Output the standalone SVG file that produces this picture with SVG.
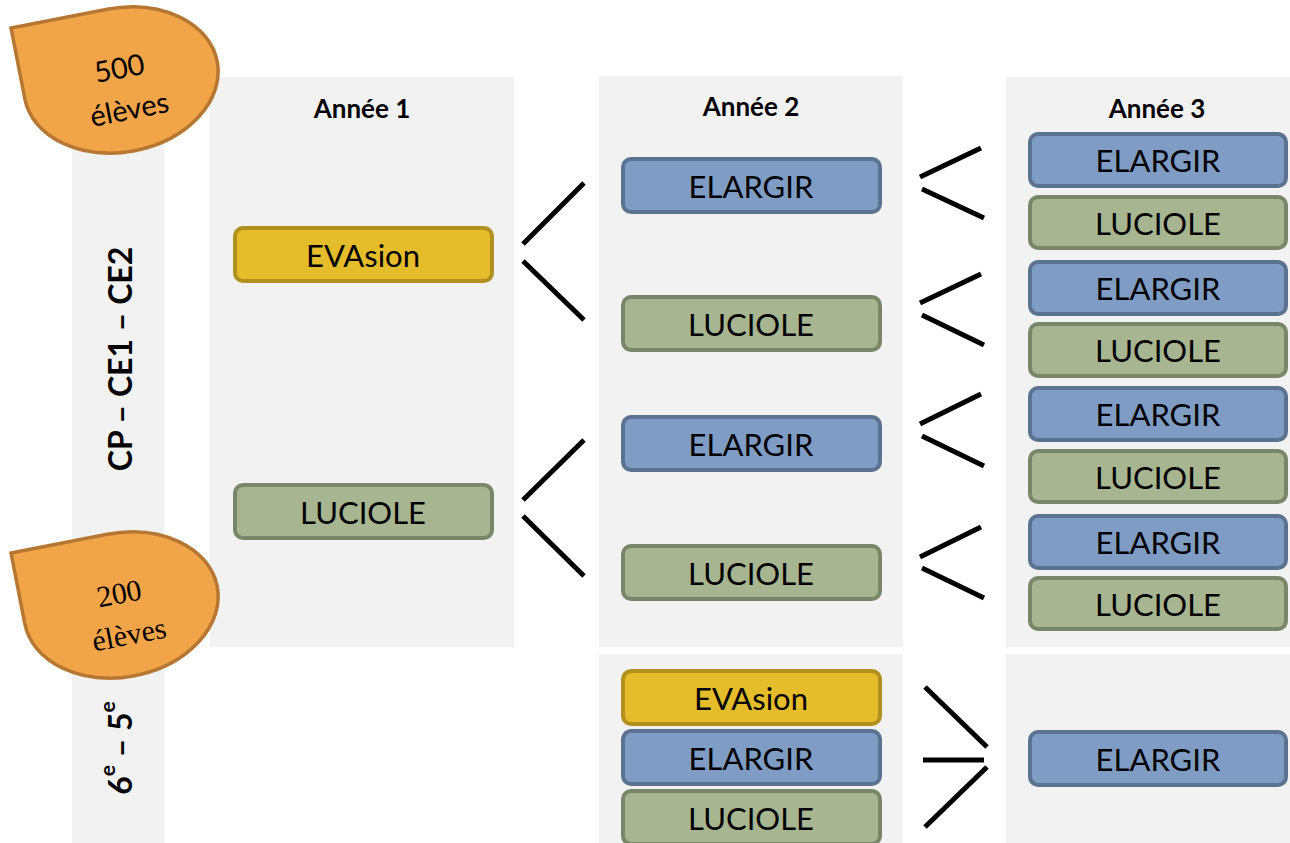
<svg xmlns="http://www.w3.org/2000/svg" width="1290" height="843" viewBox="0 0 1290 843">
<defs>
<style>
.panel{fill:#F2F2F2}
.box{stroke-width:4}
.blue{fill:#7F9DC4;stroke:#5B7391}
.green{fill:#A7B690;stroke:#7A8669}
.yellow{fill:#E5BC2A;stroke:#B0901F}
.lbl{font-family:Lato,"Liberation Sans",sans-serif;font-size:31px;fill:#000;text-anchor:middle;dominant-baseline:central}
.hdr{font-family:Lato,"Liberation Sans",sans-serif;font-size:26px;font-weight:bold;fill:#000;text-anchor:middle}
.side{font-family:Lato,"Liberation Sans",sans-serif;font-size:32px;font-weight:bold;fill:#000;text-anchor:middle;dominant-baseline:central}
.blob{fill:#F2A449;stroke:#B67733;stroke-width:3.5}
.bt1{font-family:Lato,"Liberation Sans",sans-serif;font-size:29px;fill:#000;text-anchor:middle;dominant-baseline:central}
.bt2{font-family:"Liberation Serif",serif;font-size:30px;fill:#000;text-anchor:middle;dominant-baseline:central}
.con line{stroke:#000;stroke-width:5}
</style>
<path id="drop" d="M -98,-72 L 0,-72 A 98 72 0 1 1 -98,0 Z"/>
</defs>

<g id="panels">
<rect class="panel" x="72" y="77" width="92" height="766"/>
<rect class="panel" x="210" y="77" width="304" height="570"/>
<rect class="panel" x="599" y="76" width="304" height="571"/>
<rect class="panel" x="1006" y="77" width="284" height="570"/>
<rect class="panel" x="599" y="654" width="304" height="189"/>
<rect class="panel" x="1006" y="654" width="284" height="189"/>
</g>

<g id="headers">
<text class="hdr" x="362" y="118">Année 1</text>
<text class="hdr" x="751" y="116">Année 2</text>
<text class="hdr" x="1157" y="118">Année 3</text>
</g>

<g id="side-labels">
<text class="side" transform="translate(119,359) rotate(-90)">CP – CE1 – CE2</text>
<text class="side" transform="translate(119,748) rotate(-90)">6<tspan font-size="21" baseline-shift="super">e</tspan> – 5<tspan font-size="21" baseline-shift="super">e</tspan></text>
</g>

<g id="connectors" class="con">
<line x1="523" y1="244" x2="584" y2="183"/>
<line x1="523" y1="261" x2="584" y2="320"/>
<line x1="523" y1="500" x2="584" y2="440"/>
<line x1="523" y1="516" x2="584" y2="576"/>
<line x1="920" y1="177" x2="981" y2="148"/>
<line x1="922" y1="189" x2="984" y2="218"/>
<line x1="920" y1="303" x2="981" y2="274"/>
<line x1="922" y1="315" x2="984" y2="345"/>
<line x1="920" y1="424" x2="981" y2="394"/>
<line x1="922" y1="436" x2="984" y2="466"/>
<line x1="920" y1="557" x2="981" y2="527"/>
<line x1="922" y1="568" x2="984" y2="598"/>
<line x1="925" y1="687" x2="987" y2="747"/>
<line x1="923" y1="760" x2="984" y2="760"/>
<line x1="925" y1="827" x2="987" y2="767"/>
</g>

<g id="a1-evasion"><rect class="box yellow" x="235" y="228" width="257" height="53" rx="8"/><text class="lbl" x="363" y="255">EVAsion</text></g>
<g id="a1-luciole"><rect class="box green" x="235" y="485" width="257" height="53" rx="8"/><text class="lbl" x="363" y="512">LUCIOLE</text></g>

<g id="a2-elargir-1"><rect class="box blue" x="623" y="159" width="257" height="53" rx="8"/><text class="lbl" x="751" y="186">ELARGIR</text></g>
<g id="a2-luciole-1"><rect class="box green" x="623" y="297" width="257" height="53" rx="8"/><text class="lbl" x="751" y="324">LUCIOLE</text></g>
<g id="a2-elargir-2"><rect class="box blue" x="623" y="417" width="257" height="53" rx="8"/><text class="lbl" x="751" y="444">ELARGIR</text></g>
<g id="a2-luciole-2"><rect class="box green" x="623" y="546" width="257" height="53" rx="8"/><text class="lbl" x="751" y="573">LUCIOLE</text></g>

<g id="b2-evasion"><rect class="box yellow" x="623" y="671" width="257" height="53" rx="8"/><text class="lbl" x="751" y="698">EVAsion</text></g>
<g id="b2-elargir"><rect class="box blue" x="623" y="731" width="257" height="53" rx="8"/><text class="lbl" x="751" y="758">ELARGIR</text></g>
<g id="b2-luciole"><rect class="box green" x="623" y="791" width="257" height="53" rx="8"/><text class="lbl" x="751" y="818">LUCIOLE</text></g>

<g id="a3-elargir-1"><rect class="box blue" x="1030" y="134" width="256" height="52" rx="8"/><text class="lbl" x="1158" y="160">ELARGIR</text></g>
<g id="a3-luciole-1"><rect class="box green" x="1030" y="197" width="256" height="51" rx="8"/><text class="lbl" x="1158" y="223">LUCIOLE</text></g>
<g id="a3-elargir-2"><rect class="box blue" x="1030" y="262" width="256" height="52" rx="8"/><text class="lbl" x="1158" y="288">ELARGIR</text></g>
<g id="a3-luciole-2"><rect class="box green" x="1030" y="324" width="256" height="52" rx="8"/><text class="lbl" x="1158" y="350">LUCIOLE</text></g>
<g id="a3-elargir-3"><rect class="box blue" x="1030" y="388" width="256" height="52" rx="8"/><text class="lbl" x="1158" y="414">ELARGIR</text></g>
<g id="a3-luciole-3"><rect class="box green" x="1030" y="451" width="256" height="51" rx="8"/><text class="lbl" x="1158" y="477">LUCIOLE</text></g>
<g id="a3-elargir-4"><rect class="box blue" x="1030" y="516" width="256" height="52" rx="8"/><text class="lbl" x="1158" y="542">ELARGIR</text></g>
<g id="a3-luciole-4"><rect class="box green" x="1030" y="578" width="256" height="51" rx="8"/><text class="lbl" x="1158" y="604">LUCIOLE</text></g>

<g id="b3-elargir"><rect class="box blue" x="1030" y="732" width="256" height="53" rx="8"/><text class="lbl" x="1158" y="759">ELARGIR</text></g>

<g id="badge-500">
<use href="#drop" class="blob" transform="translate(121,80) rotate(-11)"/>
<text class="bt1" transform="translate(119,67) rotate(-11)">500</text>
<text class="bt1" transform="translate(129,108) rotate(-11)">élèves</text>
</g>
<g id="badge-200">
<use href="#drop" class="blob" transform="translate(121,605) rotate(-11)"/>
<text class="bt2" transform="translate(119,593) rotate(-11)">200</text>
<text class="bt2" transform="translate(129,634) rotate(-11)">élèves</text>
</g>
</svg>
